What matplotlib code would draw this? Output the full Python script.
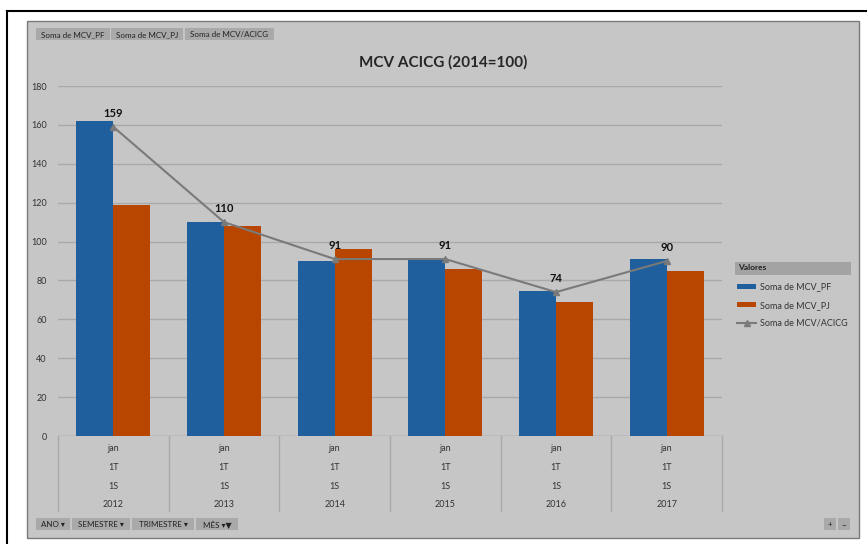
import matplotlib.pyplot as plt
from matplotlib.patches import Rectangle
from matplotlib.lines import Line2D
import numpy as np

# dados do grafico
anos = ['2012', '2013', '2014', '2015', '2016', '2017']
mes = 'jan'
trimestre = '1T'
semestre = '1S'
mcv_pf = [162, 110, 90, 91.5, 74.5, 91]
mcv_pj = [119, 108, 96, 86, 69, 85]
mcv_acicg = [159, 110, 91, 91, 74, 90]

plt.rcParams['font.family'] = ['Lato', 'DejaVu Sans']

W, H = 867, 544
fig = plt.figure(figsize=(W / 100, H / 100), dpi=100)
fig.patch.set_facecolor('white')

def fx(px):
    return px / W

def fy(py):
    return 1 - py / H

# moldura preta e painel cinza
fig.add_artist(Line2D([fx(7), 1], [fy(11), fy(11)], color='black', lw=1.5, zorder=-5))
fig.add_artist(Line2D([fx(7), fx(7)], [fy(11), 0], color='black', lw=1.5, zorder=-5))
fig.add_artist(Rectangle((fx(27), fy(538)), fx(859) - fx(27), fy(21) - fy(538),
                         facecolor='#c6c6c6', edgecolor='#7a7a7a', lw=1, zorder=-10))
fig.add_artist(Rectangle((fx(735), fy(275)), fx(851) - fx(735), fy(262) - fy(275),
                         facecolor='#a3a3a3', edgecolor='none', zorder=-4))

azul = '#1f5f9e'
laranja = '#b84600'
cinza = '#7a7a7a'

ax = fig.add_axes([fx(58), fy(436), fx(722) - fx(58), fy(86) - fy(436)])
ax.patch.set_alpha(0)

x = np.arange(len(anos))
bw = 0.335
b1 = ax.bar(x - bw / 2, mcv_pf, bw, color=azul, label='Soma de MCV_PF', zorder=2)
b2 = ax.bar(x + bw / 2, mcv_pj, bw, color=laranja, label='Soma de MCV_PJ', zorder=2)
l1, = ax.plot(x, mcv_acicg, color=cinza, lw=1.5, marker='^', ms=4,
              label='Soma de MCV/ACICG', zorder=3)
for xi, v in zip(x, mcv_acicg):
    ax.annotate(str(v), (xi, v), xytext=(0, 6), textcoords='offset points',
                ha='center', va='bottom', fontsize=8, fontweight='bold', color='#111111')

ax.set_xlim(-0.5, len(anos) - 0.5)
ax.set_ylim(0, 180)
ax.set_yticks(range(0, 181, 20))
ax.tick_params(axis='y', length=0, labelsize=6.5, labelcolor='#333333', pad=8)
ax.set_xticks([])
ax.grid(axis='y', color='#a9a9a9', lw=1, zorder=0)
for s in ax.spines.values():
    s.set_visible(False)
ax.axhline(0, color='#a9a9a9', lw=1, zorder=1)

# eixo multinivel
linhas = [(mes, -0.037), (trimestre, -0.089), (semestre, -0.143)]
for i, ano in enumerate(anos):
    for txt, yy in linhas:
        ax.text(i, yy, txt, transform=ax.get_xaxis_transform(), ha='center',
                va='center', fontsize=6.5, color='#333333')
    ax.text(i, -0.197, ano, transform=ax.get_xaxis_transform(), ha='center',
            va='center', fontsize=6.5, color='#333333')
for b in np.arange(-0.5, len(anos), 1):
    ax.plot([b, b], [0, -0.215], transform=ax.get_xaxis_transform(),
            color='#a9a9a9', lw=1, clip_on=False)

fig.text(fx(443), fy(62), 'MCV ACICG (2014=100)', fontsize=11, fontweight='bold',
         color='#262626', ha='center', va='center')

# legenda
fig.text(fx(738), fy(268), 'Valores', fontsize=6, fontweight='bold', color='#222222',
         va='center', ha='left')
leg = ax.legend(handles=[b1, b2, l1], loc='upper left', bbox_to_anchor=(fx(733), fy(279)),
                bbox_transform=fig.transFigure, frameon=False, fontsize=6.5,
                handlelength=2.2, handleheight=0.6, labelspacing=1.0,
                handletextpad=0.4, borderaxespad=0)
for t in leg.get_texts():
    t.set_color('#333333')

# botoes de campo
def botao(px0, px1, py, txt):
    fig.add_artist(Rectangle((fx(px0), fy(py + 6)), fx(px1) - fx(px0), fy(py - 6) - fy(py + 6),
                             facecolor='#a9a9a9', edgecolor='none', zorder=-4))
    fig.text(fx((px0 + px1) / 2), fy(py), txt, fontsize=5.8, color='#222222',
             va='center_baseline', ha='center')

botao(36, 110, 34, 'Soma de MCV_PF')
botao(111, 183, 34, 'Soma de MCV_PJ')
botao(185, 274, 34, 'Soma de MCV/ACICG')
botao(36, 70, 524, 'ANO ▾')
botao(72, 130, 524, 'SEMESTRE ▾')
botao(132, 194, 524, 'TRIMESTRE ▾')
botao(196, 238, 524, 'MÊS ▾▼')
botao(824, 836, 524, '+')
botao(838, 850, 524, '−')

fig.savefig('out.png', dpi=100)
